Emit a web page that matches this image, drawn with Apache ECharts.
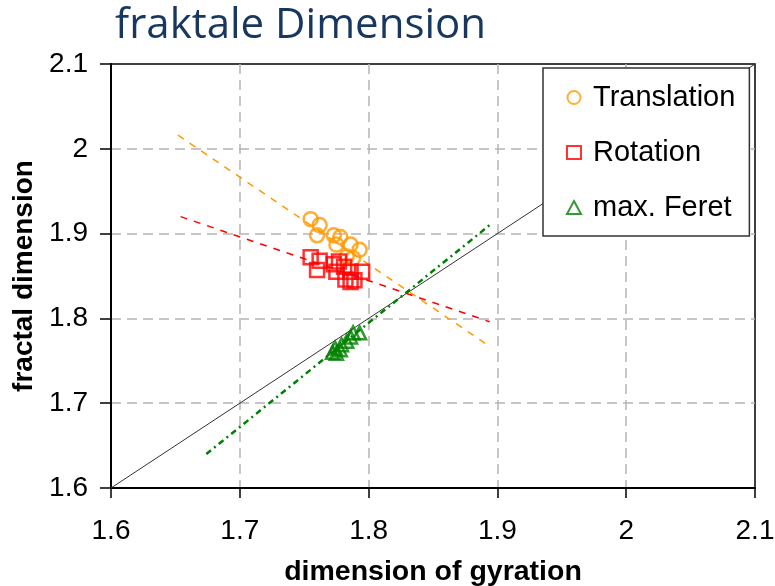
<!DOCTYPE html>
<html>
<head>
<meta charset="utf-8">
<script src="https://cdn.jsdelivr.net/npm/echarts@6/dist/echarts.min.js"></script>
<style>
html,body{margin:0;padding:0;background:#fff;}
#chart{width:775px;height:586px;}
</style>
</head>
<body>
<div id="chart"></div>
<script>
// ---- data ----
const seriesNames = ['Translation', 'Rotation', 'max. Feret'];

const translationX = [1.755, 1.762, 1.760, 1.773, 1.778, 1.775, 1.786, 1.793, 1.783, 1.788];
const translationY = [1.917, 1.910, 1.898, 1.898, 1.896, 1.887, 1.887, 1.881, 1.873, 1.871];

const rotationX = [1.755, 1.762, 1.760, 1.773, 1.777, 1.775, 1.781, 1.786, 1.795, 1.782, 1.786, 1.789];
const rotationY = [1.872, 1.868, 1.857, 1.864, 1.867, 1.855, 1.861, 1.855, 1.855, 1.846, 1.843, 1.845];

const feretX = [1.772, 1.774, 1.775, 1.778, 1.779, 1.783, 1.786, 1.788, 1.793];
const feretY = [1.760, 1.765, 1.759, 1.763, 1.769, 1.773, 1.778, 1.783, 1.783];

// trend lines (end points)
const translationTrendX = [1.652, 1.894];
const translationTrendY = [2.016, 1.767];
const rotationTrendX = [1.654, 1.894];
const rotationTrendY = [1.920, 1.796];
const feretTrendX = [1.674, 1.894];
const feretTrendY = [1.640, 1.910];
const identityX = [1.6, 2.1];
const identityY = [1.6, 2.1];

const xTicks = [1.6, 1.7, 1.8, 1.9, 2.0, 2.1];
const yTicks = [1.6, 1.7, 1.8, 1.9, 2.0, 2.1];

// ---- helpers ----
const zip = (xs, ys) => xs.map((x, i) => [x, ys[i]]);

const colors = { t: '#FF9900', r: '#FF0000', f: '#008000' };

const chart = echarts.init(document.getElementById('chart'), null, { renderer: 'canvas' });

const fontFam = '"Liberation Sans", Arial, sans-serif';

chart.setOption({
  backgroundColor: '#ffffff',
  animation: false,
  title: {
    text: 'fraktale Dimension',
    left: 110,
    top: 0,
    textStyle: { fontFamily: '"Open Sans", sans-serif', fontSize: 42, fontWeight: 'normal', color: '#17375E' }
  },
  grid: {
    left: 111, right: 20, top: 64, bottom: 98,
    outerBoundsMode: 'none',
    containLabel: false,
    show: true, borderColor: '#000', borderWidth: 1.5, backgroundColor: 'transparent'
  },
  legend: {
    data: seriesNames,
    orient: 'vertical',
    left: 543,
    top: 68,
    padding: [15, 14, 14, 23],
    itemGap: 26,
    itemWidth: 14,
    itemHeight: 13,
    backgroundColor: '#ffffff',
    borderColor: '#333',
    borderWidth: 1.5,
    textStyle: { fontFamily: fontFam, fontSize: 29, color: '#000', padding: [0, 0, 0, 7] },
    z: 10
  },
  xAxis: {
    type: 'value',
    min: xTicks[0], max: xTicks[xTicks.length - 1], interval: 0.1,
    name: 'dimension of gyration',
    nameLocation: 'middle',
    nameGap: 70,
    nameTextStyle: { fontFamily: fontFam, fontSize: 28.5, fontWeight: 'bold', color: '#000' },
    axisLine: { onZero: false, lineStyle: { color: '#000', width: 2 } },
    axisTick: { show: true, inside: false, length: 10, lineStyle: { color: '#000', width: 1.5 } },
    axisLabel: { fontFamily: fontFam, fontSize: 28, color: '#000', margin: 29,
      formatter: v => String(Math.round(v * 10) / 10) },
    splitLine: { show: true, showMinLine: false, showMaxLine: false,
      lineStyle: { color: '#B4B4B4', width: 1.5, type: [10, 6] } }
  },
  yAxis: {
    type: 'value',
    min: yTicks[0], max: yTicks[yTicks.length - 1], interval: 0.1,
    name: 'fractal dimension',
    nameLocation: 'middle',
    nameGap: 72,
    nameTextStyle: { fontFamily: fontFam, fontSize: 28, fontWeight: 'bold', color: '#000' },
    axisLine: { onZero: false, lineStyle: { color: '#000', width: 2 } },
    axisTick: { show: true, inside: false, length: 11, lineStyle: { color: '#000', width: 1.5 } },
    axisLabel: { fontFamily: fontFam, fontSize: 28, color: '#000', margin: 23,
      formatter: v => String(Math.round(v * 10) / 10) },
    splitLine: { show: true, showMinLine: false, showMaxLine: false,
      lineStyle: { color: '#B4B4B4', width: 1.5, type: [10, 6] } }
  },
  series: [
    {
      name: 'identity', type: 'line', data: zip(identityX, identityY),
      symbol: 'none', lineStyle: { color: '#333', width: 1 }, z: 1, silent: true
    },
    {
      name: 'Translation trend', type: 'line', data: zip(translationTrendX, translationTrendY),
      symbol: 'none', lineStyle: { color: colors.t, width: 1.5, type: [7, 7] }, z: 1
    },
    {
      name: 'Rotation trend', type: 'line', data: zip(rotationTrendX, rotationTrendY),
      symbol: 'none', lineStyle: { color: colors.r, width: 1.5, type: [7, 7] }, z: 1
    },
    {
      name: 'Feret trend', type: 'line', data: zip(feretTrendX, feretTrendY),
      symbol: 'none', lineStyle: { color: colors.f, width: 2.5, type: [6, 4, 2, 4] }, z: 1
    },
    {
      name: 'Translation', type: 'scatter', data: zip(translationX, translationY),
      symbol: 'circle', symbolSize: 14,
      itemStyle: { color: 'rgba(255,255,255,0)', borderColor: colors.t, borderWidth: 2.5 }, z: 3
    },
    {
      name: 'Rotation', type: 'scatter', data: zip(rotationX, rotationY),
      symbol: 'rect', symbolSize: 14,
      itemStyle: { color: 'rgba(255,255,255,0)', borderColor: colors.r, borderWidth: 2.5 }, z: 3
    },
    {
      name: 'max. Feret', type: 'scatter', data: zip(feretX, feretY),
      symbol: 'triangle', symbolSize: 13,
      itemStyle: { color: 'rgba(255,255,255,0)', borderColor: colors.f, borderWidth: 2.5 }, z: 3
    }
  ]
});
</script>
</body>
</html>
